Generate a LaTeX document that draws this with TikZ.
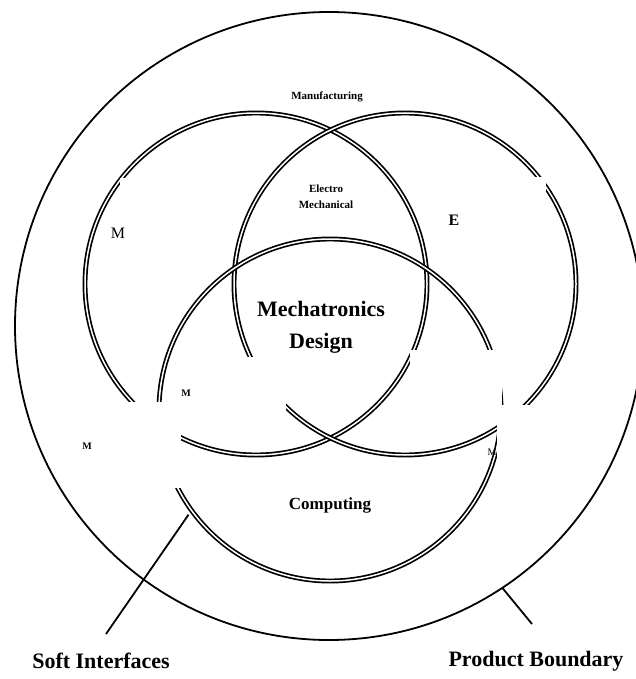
\documentclass[tikz,border=0pt]{standalone}
\usepackage{fontspec}
\setmainfont{Liberation Serif}
\tikzset{
  ring/.style={double,line width=1.7pt,double distance=1.5pt},
  patch/.style={fill=white},
  big/.style={inner sep=0pt,align=center,font=\fontsize{22}{32}\selectfont\bfseries},
  mid/.style={inner sep=0pt,font=\fontsize{17}{20}\selectfont\bfseries},
  small/.style={inner sep=0pt,align=center,font=\fontsize{11}{16}\selectfont\bfseries},
  tiny/.style={inner sep=0pt,font=\fontsize{10}{12}\selectfont\bfseries}
}
\begin{document}
\begin{tikzpicture}[x=1pt,y=-1pt]
	\useasboundingbox (0,0) rectangle (636,679);
	\clip (0,0) rectangle (636,679);
	\draw[line width=1.8pt] (329,326) circle (314);
	\draw[ring] (256,284) circle (171);
	\draw[ring] (405,284) circle (171);
	\draw[ring] (330,410) circle (171);
	% cut-outs
	\fill[patch] (120,178) rectangle (195,290);
	\fill[patch] (463,177) rectangle (546,270);
	\fill[patch] (181,357) rectangle (286,432);
	\fill[patch] (410,350) rectangle (502,405);
	\fill[patch] (95,402) rectangle (181,488);
	\fill[patch] (497,405) rectangle (562,500);
	\node[small] (manuf) at (327,97) {Manufacturing};
	\node[small] (elmech) at (326,197) {Electro\\Mechanical};
	\node[mid,font=\fontsize{16}{18}\selectfont] (mlet) at (118,233) {M};
	\node[mid,font=\fontsize{16}{18}\selectfont\bfseries] (elet) at (454,220) {E};
	\node[big] (design) at (321,327) {Mechatronics\\Design};
	\node[mid] (comp) at (330,505) {Computing};
	\node[tiny] (m1) at (87,446) {M};
	\node[tiny] (m2) at (186,393) {M};
	\node[tiny,font=\fontsize{10}{12}\selectfont] (m3) at (492,452) {M};
	\node[big] (soft) at (101,661) {Soft Interfaces};
	\node[big] (prod) at (536,661) {Product Boundary};
	\coordinate (sitop) at ([shift={(330,410)}]143.5:176);
	\coordinate (siend) at (106,634);
	\coordinate (pbtop) at ([shift={(329,326)}]56.5:314);
	\coordinate (pbend) at (532,624);
	\draw[line width=1.8pt] (sitop)--(siend);
	\draw[line width=1.8pt] (pbtop)--(pbend);
\end{tikzpicture}
\end{document}
